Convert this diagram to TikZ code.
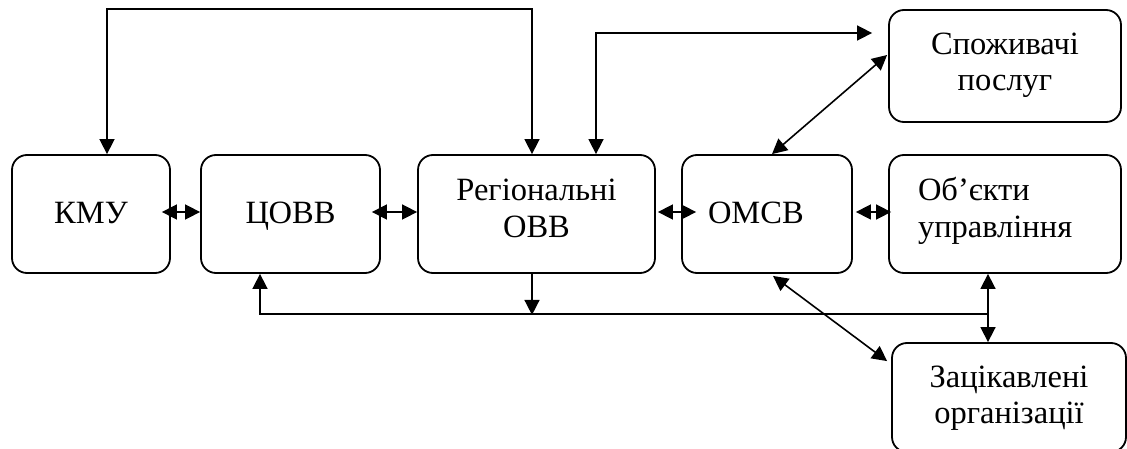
\documentclass[tikz,border=0pt]{standalone}
\usepackage{fontspec}
\setmainfont{Liberation Serif}
\usetikzlibrary{arrows.meta}
\begin{document}
\begin{tikzpicture}[x=1pt,y=-1pt,
  box/.style={draw, line width=1.8pt, rounded corners=15pt, inner sep=0pt,
    minimum height=118pt, align=center, text height=18pt, text depth=0pt,
    font=\fontsize{32.5}{36}\selectfont},
  lbox/.style={box, align=left, inner xsep=#1},
  conn/.style={line width=1.6pt},
  both/.style={conn, {Triangle[length=15pt,width=15pt]}-{Triangle[length=15pt,width=15pt]}},
  fwd/.style={conn, -{Triangle[length=15pt,width=15pt]}}
]
\useasboundingbox (0,0) rectangle (1127,449);
\node[box, minimum width=158pt] (kmu) at (91,214) {КМУ};
\node[box, minimum width=179pt] (covv) at (290.5,214) {ЦОВВ};
\node[box, minimum width=237pt, text height=46pt] (reg) at (536.5,214) {Регіональні\\ОВВ};
\node[lbox=26pt, text width=118pt] (omsv) at (767,214) {ОМСВ};
\node[lbox=29pt, text width=174pt, text height=0pt, text depth=26pt] (obj) at (1005,214) {Об’єкти\\управління};
\node[box, minimum width=232pt, minimum height=112pt, text height=50pt] (spoz) at (1005,66) {Споживачі\\послуг};
\node[box, minimum width=234pt, minimum height=109pt, text height=51pt] (zac) at (1009,397.5) {Зацікавлені\\організації};

% top loops
\draw[both] ([xshift=16pt]kmu.north) -- ++(0,-145) -| ([xshift=-4.5pt]reg.north);
\draw[both] ([xshift=59.5pt]reg.north) |- ([xshift=-16pt,yshift=33pt]spoz.west);

% horizontal links
\draw[both] ([xshift=-9pt,yshift=2pt]kmu.east) -- ([yshift=2pt]covv.west);
\draw[both] ([xshift=-9pt,yshift=2pt]covv.east) -- ([yshift=2pt]reg.west);
\draw[both] ([xshift=2pt,yshift=2pt]reg.east) -- ([xshift=15pt,yshift=2pt]omsv.west);
\draw[both] ([xshift=3pt,yshift=2pt]omsv.east) -- ([xshift=3pt,yshift=2pt]obj.west);

% diagonals
\draw[both] ([xshift=5pt]omsv.north) -- ([xshift=-1pt,yshift=11pt]spoz.west);
\draw[both] ([xshift=6pt,yshift=-2pt]omsv.south) -- ([xshift=-4pt,yshift=-19pt]zac.north west);

% vertical obj - zac
\coordinate (bj) at ([xshift=-17pt]obj.south);
\draw[both] (bj) -- (bj |- zac.north);

% bottom bus
\coordinate (bus) at (988,314);
\draw[fwd] (bus) -| ([xshift=-30.5pt]covv.south);
\draw[fwd] ([xshift=-4.5pt]reg.south) -- ++(0,41);
\end{tikzpicture}
\end{document}
